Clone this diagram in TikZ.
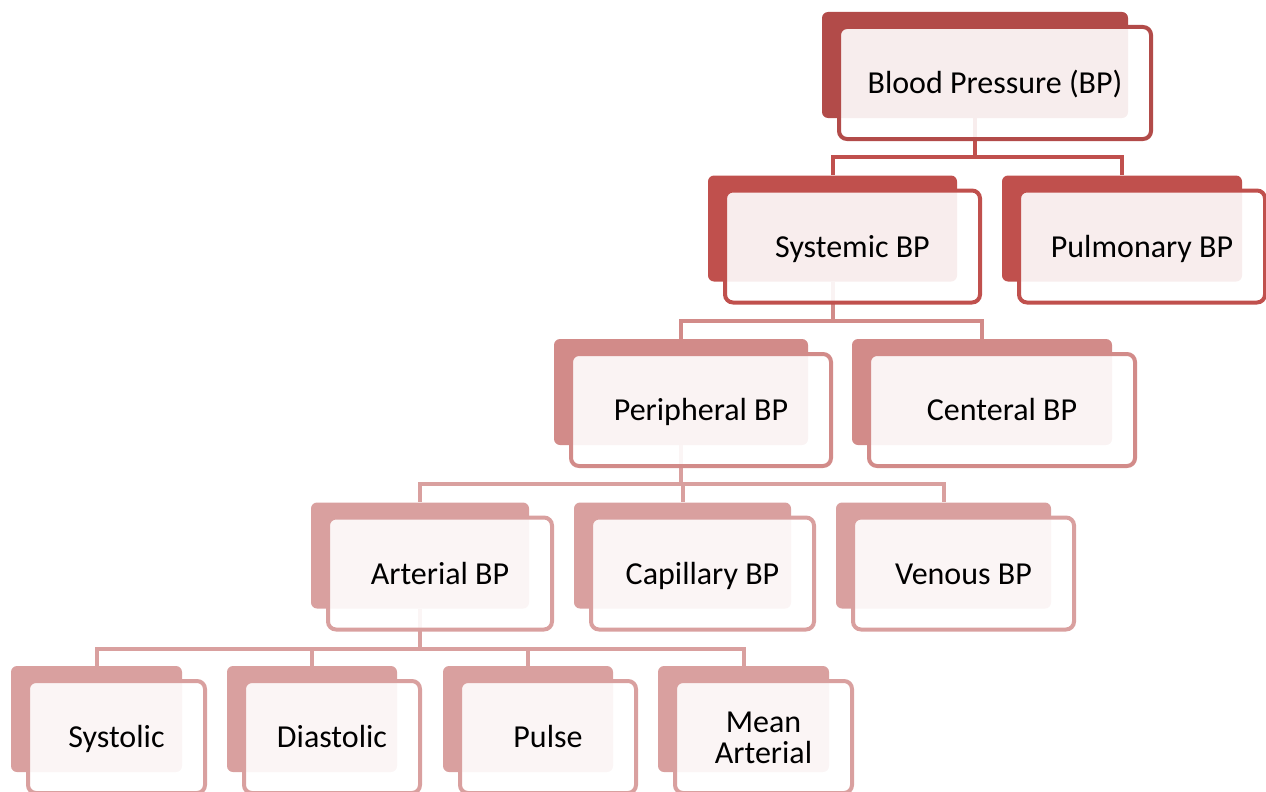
\documentclass[tikz,border=0pt]{standalone}
\usepackage{fontspec}
\setmainfont{Carlito}
\usetikzlibrary{calc,backgrounds}

\definecolor{lvA}{HTML}{B24B49}
\definecolor{lvB}{HTML}{C0504D}
\definecolor{lvC}{HTML}{D28B89}
\definecolor{lvD}{HTML}{D9A09F}

% #1 name, #2 x, #3 y (centre of the shaded tab), #4 tab width, #5 colour,
% #6 label, #7 baseline offset of the label from the box centre
\newcommand\bpitem[7]{%
  \node[backbox, fill=#5, minimum width=#4] (#1b) at (#2,#3) {};
  \node[frontbox, draw=#5, minimum width=#4+6] (#1) at ($(#1b.center)+(20,18)$)
    {\raisebox{#7}[0pt][0pt]{#6}};
}

\begin{document}
\begin{tikzpicture}[x=1pt,y=-1pt,
  backbox/.style={rectangle, rounded corners=6pt, inner sep=0pt, minimum height=106pt},
  frontbox/.style={rectangle, rounded corners=8pt, inner sep=0pt, minimum height=112pt,
    line width=4pt, fill=white, fill opacity=0.9, draw opacity=1, text opacity=1,
    font=\fontsize{32}{33}\selectfont},
  link/.style={line width=4pt}]

\clip (0,0) rectangle (1266,792);

% level 0
\bpitem{bp}{975}{65}{306}{lvA}{Blood Pressure (BP)}{-10.5pt}
% level 1
\bpitem{sys}{832.5}{228.5}{249}{lvB}{Systemic BP}{-10.5pt}
\bpitem{pul}{1122}{228.5}{240}{lvB}{Pulmonary BP}{-10.5pt}
% level 2
\bpitem{per}{681}{392}{254}{lvC}{Peripheral BP}{-10.5pt}
\bpitem{cen}{982}{392}{260}{lvC}{Centeral BP}{-10.5pt}
% level 3
\bpitem{art}{420}{555.5}{218}{lvD}{Arterial BP}{-10.5pt}
\bpitem{cap}{682.5}{555.5}{217}{lvD}{Capillary BP}{-10.5pt}
\bpitem{ven}{943.5}{555.5}{215}{lvD}{Venous BP}{-10.5pt}
% level 4
\bpitem{sto}{96.5}{719}{171}{lvD}{Systolic}{-10.5pt}
\bpitem{dia}{312}{719}{170}{lvD}{Diastolic}{-10.5pt}
\bpitem{pls}{528}{719}{170}{lvD}{Pulse}{-10.5pt}
\bpitem{mean}{743.5}{719}{171}{lvD}{\begin{tabular}[t]{@{}c@{}}Mean\\[-2pt]Arterial\end{tabular}}{5pt}

% connectors, kept behind the boxes
\begin{pgfonlayer}{background}
\draw[link, draw=lvB] (bpb.south) -- ++(0,39) -| (sysb.north);
\draw[link, draw=lvB] (bpb.south) -- ++(0,39) -| (pulb.north);
\draw[link, draw=lvC] (sysb.south) -- ++(0,39) -| (perb.north);
\draw[link, draw=lvC] (sysb.south) -- ++(0,39) -| (cenb.north);
\draw[link, draw=lvD] (perb.south) -- ++(0,39) -| (artb.north);
\draw[link, draw=lvD] (perb.south) -- ++(0,39) -| (capb.north);
\draw[link, draw=lvD] (perb.south) -- ++(0,39) -| (venb.north);
\draw[link, draw=lvD] (artb.south) -- ++(0,40) -| (stob.north);
\draw[link, draw=lvD] (artb.south) -- ++(0,40) -| (diab.north);
\draw[link, draw=lvD] (artb.south) -- ++(0,40) -| (plsb.north);
\draw[link, draw=lvD] (artb.south) -- ++(0,40) -| (meanb.north);
\end{pgfonlayer}
\end{tikzpicture}
\end{document}
